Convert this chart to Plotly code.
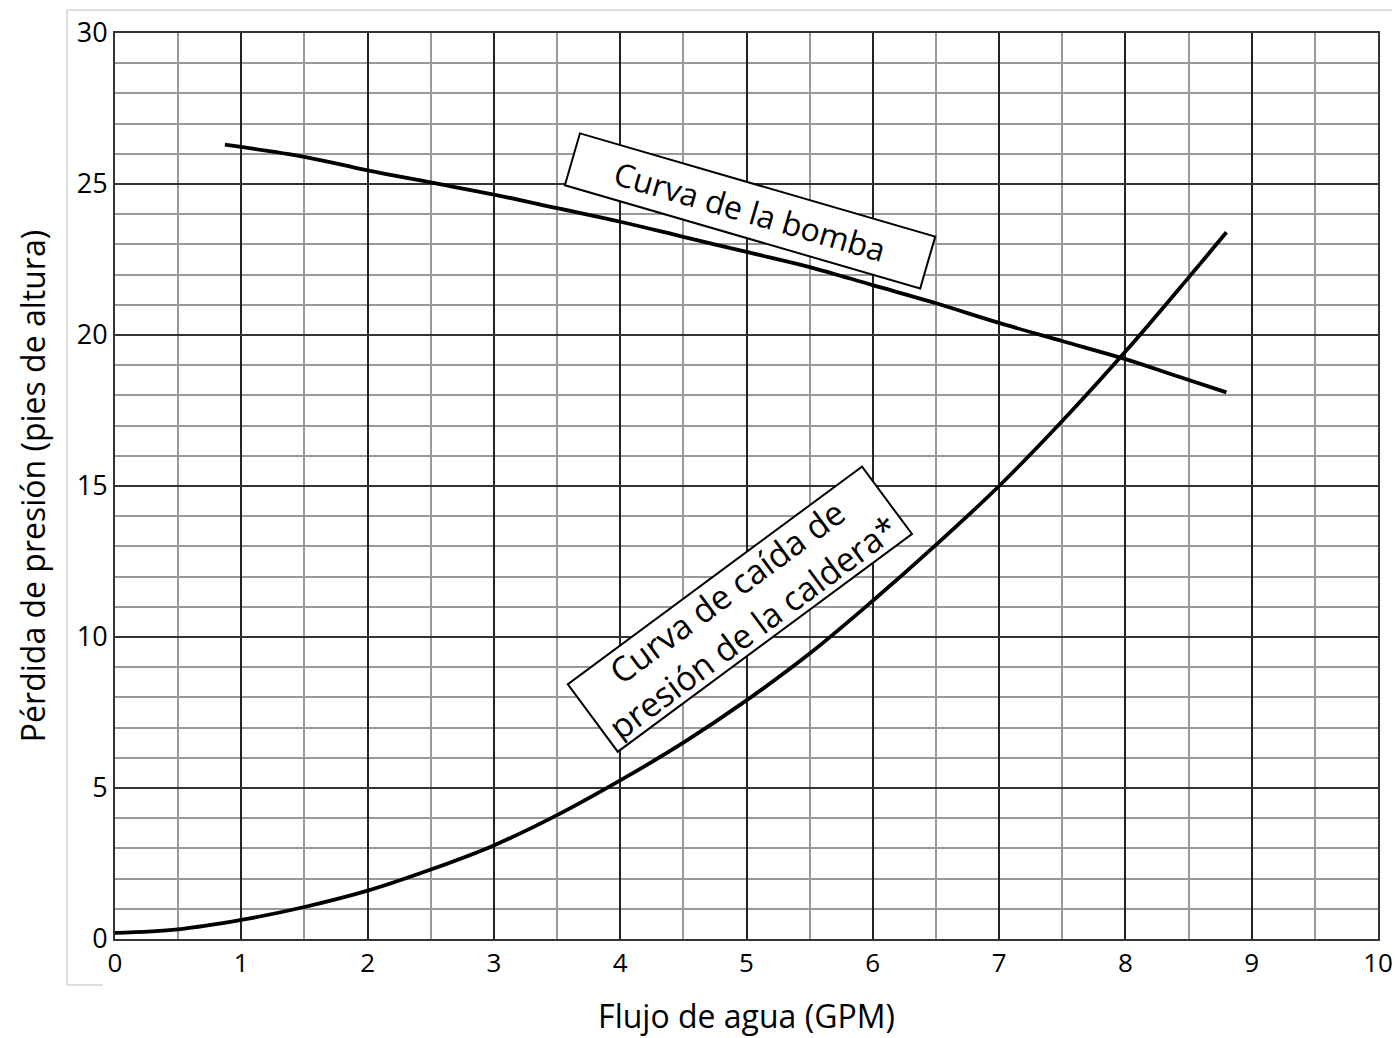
import plotly.graph_objects as go

# Pump curve (GPM vs feet of head)
pump_flow = [0.87, 1.5, 2, 2.5, 3, 3.5, 4, 4.5, 5, 5.5, 6, 6.5, 7, 7.5, 8, 8.4, 8.8]
pump_head = [26.3, 25.9, 25.45, 25.05, 24.65, 24.2, 23.75, 23.25, 22.75, 22.25, 21.65, 21.05, 20.4, 19.8, 19.2, 18.65, 18.1]

# Boiler pressure-drop curve
boiler_flow = [0, 0.5, 1, 1.5, 2, 2.5, 3, 3.5, 4, 4.5, 5, 5.5, 6, 6.5, 7, 7.5, 8, 8.5, 8.8]
boiler_loss = [0.2, 0.32, 0.63, 1.06, 1.6, 2.3, 3.1, 4.1, 5.25, 6.5, 7.9, 9.45, 11.2, 13.05, 15.0, 17.15, 19.45, 21.9, 23.4]

x_ticks = [0, 1, 2, 3, 4, 5, 6, 7, 8, 9, 10]
y_ticks = [0, 5, 10, 15, 20, 25, 30]

FONT = "Open Sans"

fig = go.Figure()
fig.add_trace(go.Scatter(x=pump_flow, y=pump_head, mode='lines', line=dict(color='black', width=3.8, shape='spline'), showlegend=False))
fig.add_trace(go.Scatter(x=boiler_flow, y=boiler_loss, mode='lines', line=dict(color='black', width=3.8, shape='spline'), showlegend=False))

# Rotated boxed labels
fig.add_annotation(x=5.03, y=24.1, xref='x', yref='y', text="Curva de la bomba", showarrow=False,
                   textangle=16.2, font=dict(family=FONT, size=32, color='black'),
                   bgcolor='white', bordercolor='black', borderwidth=2, width=362, height=46, borderpad=3)
fig.add_annotation(x=4.95, y=10.92, xref='x', yref='y',
                   text="Curva de caída de<br>presión de la caldera*", showarrow=False,
                   textangle=-36.5, font=dict(family=FONT, size=34, color='black'),
                   bgcolor='white', bordercolor='black', borderwidth=2, width=362, height=80, borderpad=1)

# light outer frame
frame = dict(color='#dddddd', width=2)
fig.add_shape(type='line', xref='paper', yref='paper', x0=-0.038, x1=-0.038, y0=1.0254, y1=-0.0508, line=frame)
fig.add_shape(type='line', xref='paper', yref='paper', x0=-0.038, x1=1.02, y0=1.0254, y1=1.0254, line=frame)
fig.add_shape(type='line', xref='paper', yref='paper', x0=-0.038, x1=-0.0095, y0=-0.0508, y1=-0.0508, line=frame)

fig.update_layout(
    width=1392, height=1030,
    margin=dict(l=107, r=22, t=25, b=99, autoexpand=False),
    plot_bgcolor='white', paper_bgcolor='white',
    font=dict(family=FONT, color='black'),
    xaxis=dict(range=[0, 10], tickvals=x_ticks, ticks='', tickfont=dict(size=26), automargin=False,
               showgrid=True, gridcolor='#222222', gridwidth=2,
               minor=dict(dtick=0.5, showgrid=True, gridcolor='#999999', gridwidth=2),
               showline=True, linecolor='#333333', linewidth=2, mirror=True,
               title=dict(text="Flujo de agua (GPM)", font=dict(size=32), standoff=26),
               zeroline=False),
    yaxis=dict(range=[0, 30], tickvals=y_ticks, ticks='', tickfont=dict(size=27), automargin=False,
               showgrid=True, gridcolor='#333333', gridwidth=2,
               minor=dict(dtick=1, showgrid=True, gridcolor='#999999', gridwidth=2),
               showline=True, linecolor='#333333', linewidth=2, mirror=True,
               title=dict(text="Pérdida de presión (pies de altura)", font=dict(size=32), standoff=22),
               zeroline=False),
)

fig.write_html("out.html")
